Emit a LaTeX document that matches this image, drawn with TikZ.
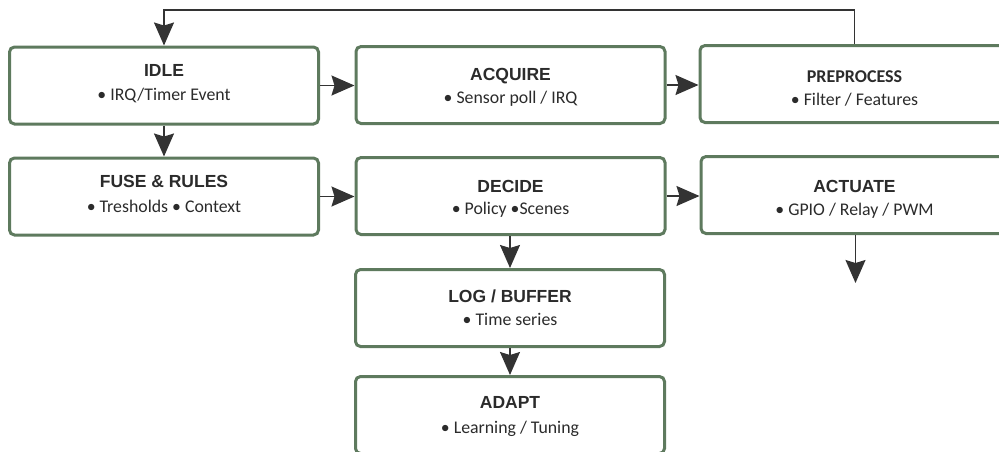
\documentclass[tikz,border=0pt]{standalone}
\usepackage{fontspec}
\setmainfont{Carlito}
\newfontfamily\arialfont{Liberation Sans}
\usetikzlibrary{arrows.meta}
\definecolor{boxgreen}{HTML}{5E7A5E}
\definecolor{ink}{HTML}{333333}
\definecolor{txt}{HTML}{2B2B2B}
\tikzset{
  stbox/.style={draw=boxgreen, line width=3pt, rounded corners=5pt, fill=white,
    minimum width=309pt, minimum height=77pt, inner sep=0pt},
  ttl/.style={anchor=base, inner sep=0pt, text=txt, font=\arialfont\bfseries\fontsize{17.5}{20}\selectfont},
  ttlc/.style={anchor=base, inner sep=0pt, text=txt, font=\bfseries\fontsize{18}{20}\selectfont},
  sub/.style={anchor=base, inner sep=0pt, text=txt, font=\fontsize{17.8}{20}\selectfont},
  arr/.style={draw=ink, line width=1.5pt, -{Stealth[length=23pt,width=20pt,inset=3pt]}},
}
\begin{document}
\begin{tikzpicture}[x=1pt,y=-1pt]
\useasboundingbox (0,0) rectangle (999,451);
% boxes
\node[stbox] (idle) at (164,85.5) {};
\node[stbox] (acq) at (510.5,85) {};
\node[stbox] (pre) at (854.5,84) {};
\node[stbox] (fuse) at (164,196.5) {};
\node[stbox] (dec) at (510.5,196) {};
\node[stbox] (act) at (855.5,195) {};
\node[stbox] (log) at (510,308) {};
\node[stbox] (adapt) at (510,415) {};
% texts
\node[ttl] (idleT) at (164,76) {IDLE};
\node[sub] (idleS) at (164,100) {• IRQ/Timer Event};
\node[ttl] (acqT) at (510.5,80) {ACQUIRE};
\node[sub] (acqS) at (510.5,103) {• Sensor poll / IRQ};
\node[ttlc] (preT) at (854.5,82) {PREPROCESS};
\node[sub] (preS) at (854.5,105) {• Filter / Features};
\node[ttl] (fuseT) at (164,187) {FUSE \& RULES};
\node[sub] (fuseS) at (164,212) {• Tresholds • Context};
\node[ttl] (decT) at (510.5,192) {DECIDE};
\node[sub] (decS) at (510.5,214) {• Policy •Scenes};
\node[ttl] (actT) at (854.5,192) {ACTUATE};
\node[sub] (actS) at (854.5,215) {• GPIO / Relay / PWM};
\node[ttl] (logT) at (510,302) {LOG / BUFFER};
\node[sub] (logS) at (510,325) {• Time series};
\node[ttl] (adaptT) at (510,408) {ADAPT};
\node[sub] (adaptS) at (510,433) {• Learning / Tuning};
% connectors
\coordinate (actend) at (855.5,283);
\draw[arr] (pre.north) -- ++(0,-34) -| (idle.north);
\draw[arr] (idle.east) -- (idle.east -| acq.west);
\draw[arr] (acq.east) -- (acq.east -| pre.west);
\draw[arr] (idle.south) -- (fuse.north);
\draw[arr] (fuse.east) -- (fuse.east -| dec.west);
\draw[arr] (dec.east) -- (dec.east -| act.west);
\draw[arr] (dec.south -| log.north) -- (log.north);
\draw[arr] (log.south) -- (adapt.north);
\draw[arr] (act.south) -- (actend);
\end{tikzpicture}
\end{document}
